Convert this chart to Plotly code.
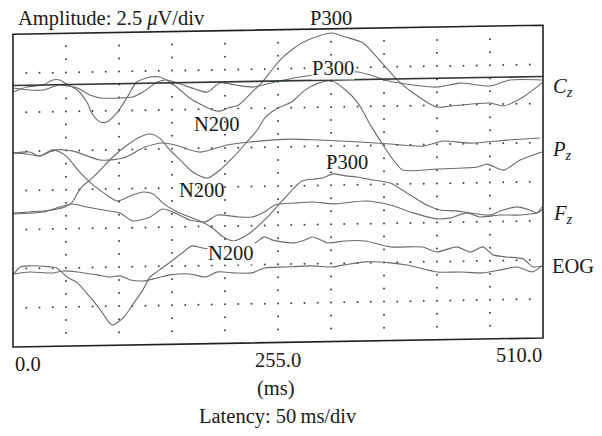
import plotly.graph_objects as go

# ---------------- data ----------------
# time in ms, amplitude in uV relative to each channel's baseline
channels = ["Cz", "Pz", "Fz", "EOG"]
channel_offset_uv = [16.72, 12.40, 8.57, 4.80]

cz_target_t = [0, 13, 29, 38, 45, 50, 62, 71, 77, 84, 90, 100, 110, 119, 132, 141, 151, 161, 170, 180,
               192, 199, 207, 217, 230, 240, 249, 259, 268, 278, 294, 307, 320, 337, 350, 370, 385, 408,
               421, 459, 472, 491, 509]
cz_target_uv = [-0.42, -0.11, 0.0, 0.31, 0.30, 0.10, -0.36, -1.14, -1.97, -2.43, -2.44, -1.87, -0.86, 0.09,
                0.39, 0.38, 0.05, -0.47, -0.99, -1.39, -1.78, -1.86, -1.67, -1.49, -0.68, -0.05, 0.71, 1.47,
                1.97, 2.41, 2.84, 3.01, 2.74, 2.34, 1.43, -0.07, -0.91, -1.84, -1.79, -1.64, -1.84, -1.29, -0.41]

cz_nontarget_t = [0, 16, 29, 45, 62, 74, 84, 103, 115, 125, 139, 148, 161, 175, 187, 199, 214, 231, 252, 276,
                  305, 332, 344, 358, 372, 408, 430, 459, 478, 509]
cz_nontarget_uv = [-0.16, -0.31, -0.32, -0.02, -0.23, -0.69, -0.89, -0.92, -0.87, -0.56, 0.07, 0.18, -0.09,
                   -0.42, -0.63, -0.06, -0.21, -0.36, -0.06, 0.23, 0.46, 0.49, 0.28, -0.05, -0.26, -0.56,
                   -0.33, -0.55, -0.19, -0.22]

pz_target_t = [0, 16, 29, 42, 50, 57, 62, 67, 74, 84, 96, 110, 122, 132, 141, 151, 161, 173, 187, 199,
               212, 225, 235, 243, 255, 268, 281, 294, 307, 320, 332, 344, 353, 366, 375, 408, 447, 456,
               472, 488, 509]
pz_target_uv = [-3.84, -3.79, -3.74, -3.63, -3.51, -3.20, -2.63, -2.19, -1.81, -1.18, -0.36, 0.39, 0.89,
                1.07, 0.80, 0.02, -0.63, -1.41, -1.81, -1.31, -0.50, 0.45, 1.21, 2.03, 2.59, 2.96, 3.71,
                4.14, 4.26, 3.67, 2.82, 1.40, 0.43, -0.86, -1.51, -1.48, -1.40, -1.22, -1.62, -1.00, -0.51]

pz_nontarget_t = [0, 16, 26, 40, 58, 84, 106, 127, 144, 156, 180, 206, 228, 267, 295, 334, 363, 395, 414,
                  440, 475, 507]
pz_nontarget_uv = [0.0, 0.05, -0.22, 0.15, 0.06, -0.54, -0.44, 0.24, 0.48, 0.34, -0.14, 0.28, 0.45, 0.59,
                   0.50, 0.33, 0.17, 0.0, 0.30, 0.14, 0.29, 0.39]

fz_target_t = [0, 13, 26, 38, 45, 52, 64, 77, 93, 100, 115, 125, 135, 144, 158, 170, 180, 192, 201, 212,
               228, 245, 259, 278, 291, 298, 308, 320, 331, 346, 363, 379, 398, 411, 427, 440, 459, 469,
               485, 497, 504, 509]
fz_target_uv = [3.84, 3.76, 3.62, 3.99, 3.85, 3.53, 2.55, 1.71, 0.92, 0.65, 1.02, 1.20, 1.06, 0.48, -0.11,
                -0.45, -0.72, -1.18, -1.70, -2.03, -1.54, -0.53, 0.48, 1.73, 1.85, 1.90, 2.15, 2.01, 1.93,
                1.72, 1.51, 0.85, 0.06, -0.27, -0.35, -0.50, -0.65, -0.40, -0.16, -0.37, -0.57, -0.19]

fz_nontarget_t = [0, 29, 45, 57, 71, 87, 103, 115, 132, 144, 158, 170, 185, 197, 217, 230, 242, 252, 271,
                  288, 310, 339, 363, 385, 408, 421, 437, 449, 469, 488, 504, 509]
fz_nontarget_uv = [-0.06, 0.03, 0.33, 0.51, 0.30, 0.09, -0.12, -0.64, -0.40, 0.09, -0.24, -0.64, -0.78,
                   -0.35, -0.50, -0.52, -0.21, 0.23, 0.33, 0.38, 0.23, 0.38, 0.10, -0.43, -0.84, -0.79,
                   -0.49, -0.76, -0.66, -0.68, -0.57, -0.38]

eog_target_t = [0, 7, 16, 36, 42, 52, 62, 74, 84, 93, 96, 106, 115, 125, 132, 141, 154, 164, 172, 182,
                194, 209, 223, 233, 242, 249, 259, 271, 281, 288, 294, 303, 319, 339, 363, 394, 408, 427,
                440, 452, 462, 475, 491, 500, 509]
eog_target_uv = [-0.19, 0.31, 0.37, 0.28, 0.21, -0.38, -0.77, -1.68, -2.52, -3.37, -3.50, -3.06, -2.24,
                 -1.29, -0.47, -0.03, 0.59, 1.09, 1.47, 1.33, 1.25, 1.24, 1.35, 1.59, 1.97, 1.77, 1.63,
                 1.55, 1.73, 1.91, 1.78, 1.51, 1.62, 1.60, 1.19, 1.15, 0.82, 1.12, 0.78, 1.09, 0.57, 0.42,
                 0.28, -0.24, -0.19]

eog_nontarget_t = [0, 16, 38, 48, 62, 81, 93, 103, 113, 125, 139, 151, 170, 185, 197, 214, 230, 242, 262,
                   288, 307, 319, 339, 363, 379, 408, 430, 452, 469, 485, 500, 509]
eog_nontarget_uv = [-0.13, -0.02, -0.11, 0.01, -0.07, -0.28, -0.43, -0.37, -0.64, -0.72, -0.54, -0.36,
                    -0.32, -0.53, -0.22, -0.31, -0.32, -0.02, 0.02, 0.06, -0.03, 0.09, 0.26, 0.17, 0.02,
                    -0.46, -0.49, -0.57, -0.40, -0.23, -0.56, -0.19]

x_tick_vals = [0.0, 255.0, 510.0]
x_tick_text = ["0.0", "255.0", "510.0"]

# ---------------- layout constants ----------------
T_MAX = 510.0
X_DIV = 51.0          # ms per grid division
Y_DIV = 2.5           # uV per division
N_X_DIV, N_Y_DIV = 10, 8
SKEW_UV = 0.575       # the scanned plate is slightly sheared
PX_PER_MS = 530 / 510
PX_PER_UV = 39.1 / 2.5
PAGE = 8              # default page margin of the html body
W_FIG, H_FIG = 602 - PAGE, 436 - PAGE
ML, MR, MT, MB = 0, 54, 12, 85
PW, PH = W_FIG - ML - MR, H_FIG - MT - MB
SCR_L, SCR_T = PAGE + ML, PAGE + MT          # plot-area corner on screen
SCR_B = PAGE + H_FIG - MB
x0 = -(13 - SCR_L) / PX_PER_MS
x1 = x0 + PW / PX_PER_MS
y0 = -(SCR_B - 347) / PX_PER_UV
y1 = y0 + PH / PX_PER_UV


def skew(t):
    return SKEW_UV * t / T_MAX


def px_x(px):
    return (px - SCR_L) / PW


def px_y(py):
    return 1 - (py - SCR_T) / PH


TRACE_COLOR = "#6b6b6b"
FONT = "Liberation Serif"

fig = go.Figure()

# dotted grid
gx, gy = [], []
for k in range(1, N_Y_DIV):
    for j in range(1, N_X_DIV * 4):
        t = j * X_DIV / 4
        gx.append(t)
        gy.append(k * Y_DIV + skew(t))
for j in range(1, N_X_DIV):
    t = j * X_DIV
    for i in range(1, N_Y_DIV * 3):
        if i % 3 == 0:
            continue
        gx.append(t)
        gy.append(i * Y_DIV / 3 + skew(t))
fig.add_trace(go.Scatter(x=gx, y=gy, mode="markers",
                         marker=dict(size=2, color="#444444", line=dict(width=0)),
                         hoverinfo="skip", showlegend=False))

traces = [
    (0, cz_target_t, cz_target_uv), (0, cz_nontarget_t, cz_nontarget_uv),
    (1, pz_target_t, pz_target_uv), (1, pz_nontarget_t, pz_nontarget_uv),
    (2, fz_target_t, fz_target_uv), (2, fz_nontarget_t, fz_nontarget_uv),
    (3, eog_target_t, eog_target_uv), (3, eog_nontarget_t, eog_nontarget_uv),
]
for ch, ts, vs in traces:
    off = channel_offset_uv[ch]
    fig.add_trace(go.Scatter(
        x=ts, y=[off + v + skew(t) for t, v in zip(ts, vs)], mode="lines",
        line=dict(color=TRACE_COLOR, width=1.1, shape="spline", smoothing=0.7),
        name=channels[ch], hoverinfo="skip", showlegend=False))

# Cz reference baseline
fig.add_trace(go.Scatter(x=[0, T_MAX], y=[channel_offset_uv[0] + skew(0), channel_offset_uv[0] + skew(T_MAX)],
                         mode="lines", line=dict(color="#2e3a32", width=1.6),
                         hoverinfo="skip", showlegend=False))

# frame
top = N_Y_DIV * Y_DIV
fig.add_shape(type="path",
              path=f"M 0,{skew(0)} L {T_MAX},{skew(T_MAX)} L {T_MAX},{top + skew(T_MAX)} L 0,{top + skew(0)} Z",
              xref="x", yref="y", line=dict(color="#222222", width=1.6), layer="above")

ann = []
tf = dict(family=FONT, size=20.5, color="#1a1a1a")


def add_text(text, px, py, xanchor="center", bg=None):
    d = dict(text=text, x=px_x(px), y=px_y(py), xref="paper", yref="paper",
             xanchor=xanchor, yanchor="middle", showarrow=False, font=tf, borderpad=0)
    if bg:
        d["bgcolor"] = bg
    ann.append(d)


add_text("Amplitude: 2.5 <i>\u03bc</i>V/div", 17, 19, xanchor="left")
add_text("P300", 331, 18)
add_text("P300", 333, 68, bg="white")
add_text("P300", 347, 162)
add_text("N200", 217, 124)
add_text("N200", 202, 190)
add_text("N200", 231, 253, bg="white")
add_text("<i>C</i><sub><i>z</i></sub>", 552, 87, xanchor="left")
add_text("<i>P</i><sub><i>z</i></sub>", 551, 150, xanchor="left")
add_text("<i>F</i><sub><i>z</i></sub>", 552, 214, xanchor="left")
add_text("EOG", 551, 266, xanchor="left")
# x tick labels (follow the plate's shear)
tick_anchor = ["left", "center", "right"]
for v, txt, xa in zip(x_tick_vals, x_tick_text, tick_anchor):
    px = 13 + v * PX_PER_MS
    py = 364 - (v / T_MAX) * 9
    add_text(txt, px + (1 if xa == "left" else 0), py, xanchor=xa)
add_text("(ms)", 276, 388)
add_text("Latency: 50\u2009ms/div", 278, 417)

fig.update_layout(
    width=W_FIG, height=H_FIG,
    margin=dict(l=ML, r=MR, t=MT, b=MB),
    paper_bgcolor="white", plot_bgcolor="white",
    xaxis=dict(range=[x0, x1], visible=False, fixedrange=True),
    yaxis=dict(range=[y0, y1], visible=False, fixedrange=True),
    annotations=ann, showlegend=False,
)

fig.write_html("out.html")
